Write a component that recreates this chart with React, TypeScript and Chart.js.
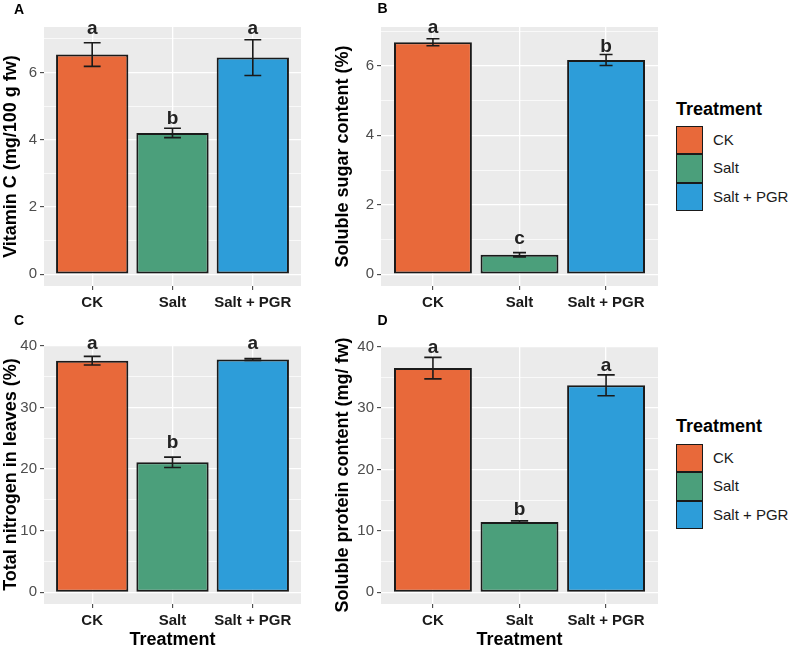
import React, { useEffect, useRef } from 'react';
import { Chart, registerables } from 'chart.js';

Chart.register(...registerables);

// ---- data ----
const treatments = ['CK', 'Salt', 'Salt + PGR'];
const barColors = ['#E8693A', '#4B9F7B', '#2D9DD9'];

const vitaminC = [6.53, 4.2, 6.44];
const vitaminCSe = [0.35, 0.14, 0.53];
const vitaminCLetters = ['a', 'b', 'a'];
const vitaminCLetterY = [7.14, 4.47, 7.14];
const vitaminCMajor = [0, 2, 4, 6];
const vitaminCMinor = [1, 3, 5, 7];

const sugar = [6.68, 0.56, 6.17];
const sugarSe = [0.1, 0.06, 0.16];
const sugarLetters = ['a', 'c', 'b'];
const sugarLetterY = [6.94, 0.86, 6.41];
const sugarMajor = [0, 2, 4, 6];
const sugarMinor = [1, 3, 5, 7];

const nitrogen = [37.6, 21.1, 37.8];
const nitrogenSe = [0.7, 0.85, 0.15];
const nitrogenLetters = ['a', 'b', 'a'];
const nitrogenLetterY = [39.45, 23.4, 39.45];
const nitrogenMajor = [0, 10, 20, 30, 40];
const nitrogenMinor = [5, 15, 25, 35];

const protein = [36.5, 11.45, 33.7];
const proteinSe = [1.75, 0.18, 1.7];
const proteinLetters = ['a', 'b', 'a'];
const proteinLetterY = [39.0, 12.65, 36.06];
const proteinMajor = [0, 10, 20, 30, 40];
const proteinMinor = [5, 15, 25, 35];

const FONT = "'Liberation Sans', Arial, Helvetica, sans-serif";
const PANEL_BG = '#EBEBEB';
const INK = '#1A1A1A';

type Panel = {
  tag: string;
  yTitle: string;
  values: number[];
  se: number[];
  letters: string[];
  letterY: number[];
  major: number[];
  minor: number[];
  yMin: number;
  yMax: number;
  capWidth: number;
  xTitle: boolean;
};

type Box = {
  left: number;
  top: number;
  width: number;
  height: number;
  padTop: number;
  padRight: number;
  yAxisWidth: number;
  xAxisHeight: number;
  yTitlePad: number;
  tagX: number;
  tagY: number;
};

const panels: Panel[] = [
  {
    tag: 'A', yTitle: 'Vitamin C (mg/100 g fw)', values: vitaminC, se: vitaminCSe,
    letters: vitaminCLetters, letterY: vitaminCLetterY, major: vitaminCMajor, minor: vitaminCMinor,
    yMin: -0.35, yMax: 7.35, capWidth: 0.21, xTitle: false,
  },
  {
    tag: 'B', yTitle: 'Soluble sugar content (%)', values: sugar, se: sugarSe,
    letters: sugarLetters, letterY: sugarLetterY, major: sugarMajor, minor: sugarMinor,
    yMin: -0.34, yMax: 7.12, capWidth: 0.15, xTitle: false,
  },
  {
    tag: 'C', yTitle: 'Total nitrogen in leaves (%)', values: nitrogen, se: nitrogenSe,
    letters: nitrogenLetters, letterY: nitrogenLetterY, major: nitrogenMajor, minor: nitrogenMinor,
    yMin: -1.9, yMax: 40.15, capWidth: 0.21, xTitle: true,
  },
  {
    tag: 'D', yTitle: 'Soluble protein content (mg/ fw)', values: protein, se: proteinSe,
    letters: proteinLetters, letterY: proteinLetterY, major: proteinMajor, minor: proteinMinor,
    yMin: -1.9, yMax: 40.1, capWidth: 0.2, xTitle: true,
  },
];

const boxes: Box[] = [
  { left: 0, top: 0, width: 310, height: 320, padTop: 27, padRight: 9, yAxisWidth: 44, xAxisHeight: 34, yTitlePad: 0, tagX: 19, tagY: 10.5 },
  { left: 320, top: 0, width: 345, height: 320, padTop: 27, padRight: 7, yAxisWidth: 61, xAxisHeight: 34, yTitlePad: 12, tagX: 62.5, tagY: 9.5 },
  { left: 0, top: 306, width: 310, height: 343, padTop: 39, padRight: 9, yAxisWidth: 44, xAxisHeight: 45, yTitlePad: 0, tagX: 19, tagY: 15 },
  { left: 320, top: 306, width: 345, height: 343, padTop: 40, padRight: 7, yAxisWidth: 61, xAxisHeight: 45, yTitlePad: 12, tagX: 62.5, tagY: 15 },
];

// Grey panel, error bars, significance letters and the panel tag.
const decor = {
  id: 'decor',
  beforeDraw(chart: any) {
    const { ctx, chartArea } = chart;
    ctx.save();
    ctx.fillStyle = PANEL_BG;
    ctx.fillRect(chartArea.left, chartArea.top, chartArea.right - chartArea.left, chartArea.bottom - chartArea.top);
    ctx.restore();
  },
  afterDatasetsDraw(chart: any, _args: any, opts: any) {
    const p: Panel = opts.panel;
    const { ctx, scales } = chart;
    const xs = scales.x;
    const ys = scales.y;
    ctx.save();
    ctx.strokeStyle = INK;
    ctx.lineWidth = 1.6;
    p.values.forEach((v, i) => {
      const cx = xs.getPixelForValue(i);
      const half = xs.getPixelForValue(i + p.capWidth / 2) - cx;
      const yHi = ys.getPixelForValue(v + p.se[i]);
      const yLo = ys.getPixelForValue(v - p.se[i]);
      ctx.beginPath();
      ctx.moveTo(cx, yHi);
      ctx.lineTo(cx, yLo);
      ctx.moveTo(cx - half, yHi);
      ctx.lineTo(cx + half, yHi);
      ctx.moveTo(cx - half, yLo);
      ctx.lineTo(cx + half, yLo);
      ctx.stroke();
    });
    ctx.fillStyle = '#222222';
    ctx.font = `bold 19px ${FONT}`;
    ctx.textAlign = 'center';
    ctx.textBaseline = 'alphabetic';
    p.letters.forEach((l, i) => {
      ctx.fillText(l, xs.getPixelForValue(i), ys.getPixelForValue(p.letterY[i]));
    });
    ctx.restore();
  },
  afterDraw(chart: any, _args: any, opts: any) {
    const { ctx } = chart;
    ctx.save();
    ctx.fillStyle = '#000000';
    ctx.font = `bold 14px ${FONT}`;
    ctx.textAlign = 'center';
    ctx.textBaseline = 'middle';
    ctx.fillText(opts.panel.tag, opts.box.tagX, opts.box.tagY);
    ctx.restore();
  },
};

function BarPanel({ panel, box }: { panel: Panel; box: Box }) {
  const ref = useRef<HTMLCanvasElement>(null);
  useEffect(() => {
    const canvas = ref.current;
    if (!canvas) return;
    const ticks = [...panel.major, ...panel.minor].sort((a, b) => a - b);
    const isMajor = (v: number) => panel.major.includes(v);
    const chart = new Chart(canvas, {
      type: 'bar',
      data: {
        datasets: [
          {
            data: panel.values.map((v, i) => ({ x: i, y: v })),
            backgroundColor: barColors,
            borderColor: INK,
            borderWidth: 2,
            borderSkipped: false,
            barPercentage: 0.9,
            categoryPercentage: 1,
          } as any,
        ],
      },
      options: {
        responsive: false,
        animation: false,
        events: [],
        layout: { padding: { top: box.padTop, right: box.padRight, left: 0, bottom: 0 } },
        plugins: {
          legend: { display: false },
          tooltip: { enabled: false },
          decor: { panel, box },
        } as any,
        scales: {
          x: {
            type: 'linear',
            min: -0.6,
            max: 2.6,
            offset: false,
            bounds: 'data',
            afterBuildTicks: (s: any) => {
              s.ticks = treatments.map((_, i) => ({ value: i }));
            },
            afterFit: (s: any) => {
              s.height = box.xAxisHeight;
            },
            ticks: {
              autoSkip: false,
              maxRotation: 0,
              padding: 4,
              color: INK,
              font: { family: FONT, size: 15, weight: 'bold' },
              callback: (v: any) => treatments[Number(v)] ?? '',
            },
            grid: {
              offset: false,
              color: '#FFFFFF',
              lineWidth: 1.3,
              tickColor: '#333333',
              tickLength: 4,
              tickWidth: 1,
            },
            border: { display: false },
            title: {
              display: panel.xTitle,
              text: 'Treatment',
              color: '#000000',
              font: { family: FONT, size: 18, weight: 'bold', lineHeight: 1 },
              padding: { top: 0, bottom: 0 },
            },
          },
          y: {
            type: 'linear',
            min: panel.yMin,
            max: panel.yMax,
            bounds: 'data',
            afterBuildTicks: (s: any) => {
              s.ticks = ticks.map((v) => ({ value: v }));
            },
            afterFit: (s: any) => {
              s.width = box.yAxisWidth;
            },
            ticks: {
              autoSkip: false,
              padding: 3,
              color: '#4D4D4D',
              font: { family: FONT, size: 15 },
              callback: (v: any) => (isMajor(Number(v)) ? String(v) : ''),
            },
            grid: {
              color: '#FFFFFF',
              lineWidth: (c: any) => (isMajor(c.tick?.value) ? 1.3 : 0.7),
              tickColor: (c: any) => (isMajor(c.tick?.value) ? '#333333' : 'rgba(0,0,0,0)'),
              tickLength: 4,
              tickWidth: 1,
            },
            border: { display: false },
            title: {
              display: true,
              text: panel.yTitle,
              color: '#000000',
              font: { family: FONT, size: 18, weight: 'bold' },
              padding: { top: box.yTitlePad, bottom: 0 },
            },
          },
        },
      } as any,
      plugins: [decor as any],
    });
    return () => chart.destroy();
  }, [panel, box]);

  return (
    <canvas
      ref={ref}
      width={box.width}
      height={box.height}
      style={{ position: 'absolute', left: box.left, top: box.top, width: box.width, height: box.height }}
    />
  );
}

function TreatmentLegend({ titleTop, keysTop }: { titleTop: number; keysTop: number }) {
  const keyH = 28.3;
  return (
    <>
      <div
        style={{
          position: 'absolute', left: 676, top: titleTop, fontFamily: FONT, fontSize: 18,
          lineHeight: '18px', fontWeight: 'bold', color: '#000', whiteSpace: 'nowrap',
        }}
      >
        Treatment
      </div>
      {treatments.map((t, i) => (
        <React.Fragment key={t}>
          <div
            style={{
              position: 'absolute', left: 676, top: keysTop + i * keyH, width: 27, height: keyH,
              boxSizing: 'border-box', border: `1.5px solid ${INK}`, background: barColors[i],
            }}
          />
          <div
            style={{
              position: 'absolute', left: 713, top: keysTop + i * keyH, height: keyH,
              lineHeight: `${keyH}px`, fontFamily: FONT, fontSize: 15, color: INK, whiteSpace: 'nowrap',
            }}
          >
            {t}
          </div>
        </React.Fragment>
      ))}
    </>
  );
}

export default function App() {
  return (
    <div
      style={{
        position: 'fixed', left: 0, top: 0, width: 789, height: 649, background: '#FFFFFF', overflow: 'hidden',
      }}
    >
      {panels.map((p, i) => (
        <BarPanel key={p.tag} panel={p} box={boxes[i]} />
      ))}
      <TreatmentLegend titleTop={99.5} keysTop={126} />
      <TreatmentLegend titleTop={416.5} keysTop={444} />
    </div>
  );
}
